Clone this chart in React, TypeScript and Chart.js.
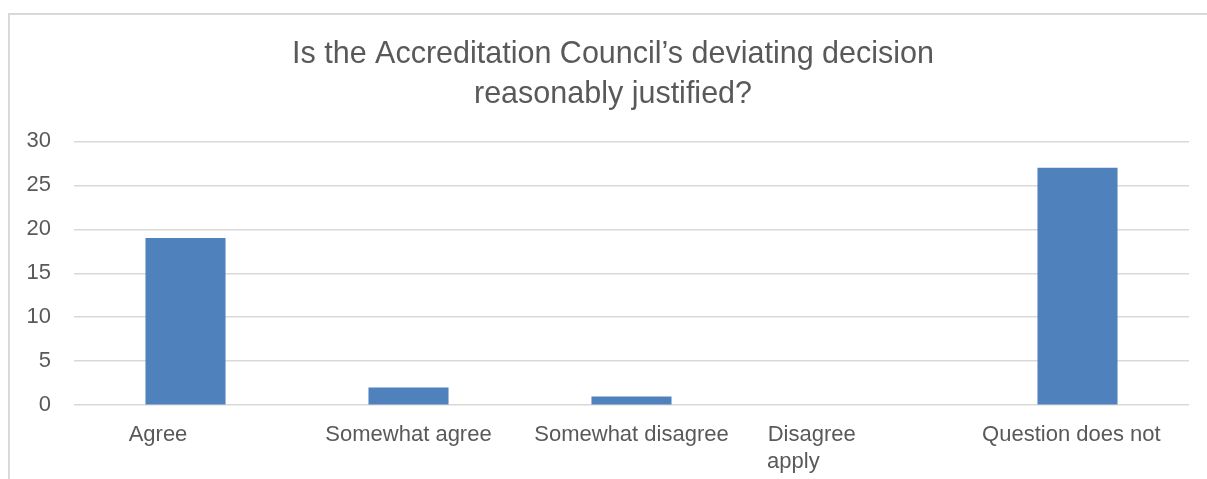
import React, { useEffect, useRef } from "react";
import { Chart, registerables } from "chart.js";

Chart.register(...registerables);

const categories = ["Agree", "Somewhat agree", "Somewhat disagree", "Disagree", "Question does not apply"];
const counts = [19, 2, 1, 0, 27];
const NB = "\u00a0";
// tick labels as they are laid out in the reference (wrapped / offset text)
const tickLabels: (string | string[])[] = [
  "Agree" + NB.repeat(9),
  "Somewhat agree",
  "Somewhat disagree",
  ["Disagree" + NB.repeat(14), "apply" + NB.repeat(20)],
  "Question does not" + NB.repeat(2),
];
const yTicks = [0, 5, 10, 15, 20, 25, 30];
const titleLines = ["Is the Accreditation Council\u2019s deviating decision", "reasonably justified?"];

const FONT = "'Liberation Sans', Arial, sans-serif";
const TEXT = "#595959";

// centre the title across the whole chart frame
const fullWidthTitle = {
  id: "fullWidthTitle",
  afterLayout(chart: any) {
    const t = chart.titleBlock;
    if (t) {
      t.left = 0;
      t.right = chart.width;
      t.width = chart.width;
    }
  },
};

export default function App() {
  const ref = useRef<HTMLCanvasElement | null>(null);

  useEffect(() => {
    document.body.style.margin = "0";
    document.body.style.overflow = "hidden";
    if (!ref.current) return;
    const chart = new Chart(ref.current, {
      type: "bar",
      data: {
        labels: categories,
        datasets: [
          {
            label: "Responses",
            data: counts,
            backgroundColor: "#4f81bd",
            borderWidth: 0,
            categoryPercentage: 1,
            barPercentage: 0.359,
          },
        ],
      },
      plugins: [fullWidthTitle],
      options: {
        responsive: false,
        animation: false,
        devicePixelRatio: 1,
        layout: { padding: { left: 0, right: 27, top: 0, bottom: 0 } },
        plugins: {
          legend: { display: false },
          tooltip: { enabled: false },
          title: {
            display: true,
            text: titleLines,
            color: TEXT,
            font: { family: FONT, size: 30.5, weight: "normal", lineHeight: 1.3 },
            padding: { top: 20, bottom: 27 },
          },
        },
        scales: {
          x: {
            grid: { display: false },
            border: { display: false },
            ticks: {
              color: TEXT,
              font: { family: FONT, size: 22 },
              padding: 9,
              maxRotation: 0,
              minRotation: 0,
              autoSkip: false,
              callback: (_v: any, i: number) => tickLabels[i],
            },
          },
          y: {
            min: yTicks[0],
            max: yTicks[yTicks.length - 1],
            border: { display: false },
            grid: { color: "#d9d9d9", lineWidth: 1.5, drawTicks: false },
            afterFit: (scale: any) => {
              scale.width = 64;
            },
            ticks: {
              stepSize: 5,
              color: TEXT,
              font: { family: FONT, size: 22 },
              padding: 23,
            },
          },
        },
      },
    });
    return () => chart.destroy();
  }, []);

  return (
    <div
      style={{
        position: "absolute",
        left: 8,
        top: 13,
        width: 1260,
        height: 520,
        borderTop: "2px solid #d9d9d9",
        borderLeft: "2px solid #d9d9d9",
        background: "#fff",
      }}
    >
      <canvas ref={ref} width={1206} height={469} style={{ display: "block" }} />
    </div>
  );
}
